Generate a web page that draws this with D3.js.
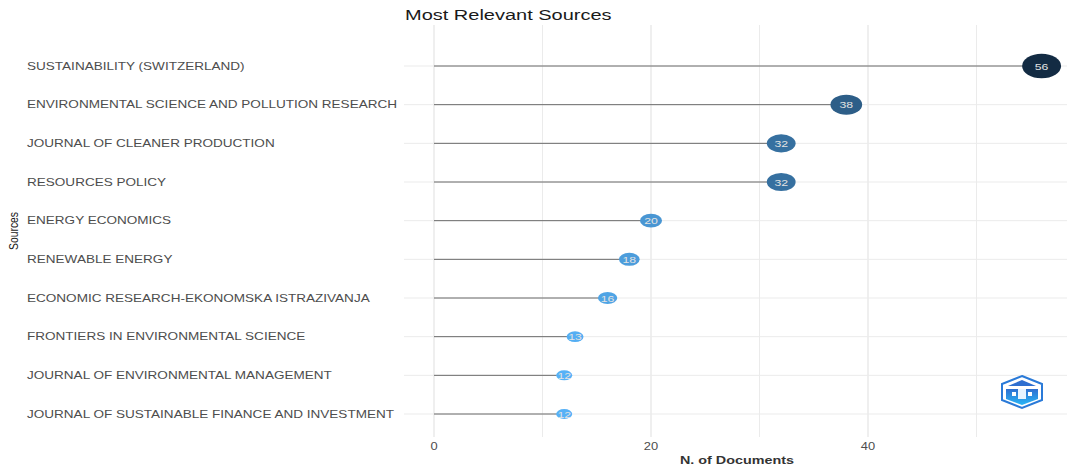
<!DOCTYPE html>
<html><head><meta charset="utf-8">
<script src="https://cdn.jsdelivr.net/npm/d3@7"></script>
<style>body{margin:0;background:#fff;} svg{display:block;font-family:"Liberation Sans",Arial,sans-serif;}</style>
</head><body>
<svg id="c" width="1067" height="468"></svg>
<script>
const sources = [
  "SUSTAINABILITY (SWITZERLAND)",
  "ENVIRONMENTAL SCIENCE AND POLLUTION RESEARCH",
  "JOURNAL OF CLEANER PRODUCTION",
  "RESOURCES POLICY",
  "ENERGY ECONOMICS",
  "RENEWABLE ENERGY",
  "ECONOMIC RESEARCH-EKONOMSKA ISTRAZIVANJA",
  "FRONTIERS IN ENVIRONMENTAL SCIENCE",
  "JOURNAL OF ENVIRONMENTAL MANAGEMENT",
  "JOURNAL OF SUSTAINABLE FINANCE AND INVESTMENT"
];
const documents = [56, 38, 32, 32, 20, 18, 16, 13, 12, 12];
const xTicks = [0, 20, 40];
const xMinor = [10, 30, 50];
const titleText = "Most Relevant Sources";
const xTitle = "N. of Documents";
const yTitle = "Sources";

const SX = 1.29; // horizontal stretch of text in the reference
const svg = d3.select("#c");
const panel = {left: 404, right: 1067, top: 25, bottom: 437};
const x = d3.scaleLinear().domain([0, 20]).range([434, 651]);
const y = d3.scalePoint().domain(sources).range([66, 414]);
const area = d3.scaleLinear().domain([12, 56]).range([16 * 16, 39 * 39]);
const bw = v => Math.sqrt(area(v));
const color = d3.scaleLinear().domain([12, 56]).range(["#56B1F7", "#132B43"]).interpolate(d3.interpolateLab);

function stext(sel, xf, yf, sx) {
  return sel.attr("transform", (d, i) => `translate(${xf(d, i)},${yf(d, i)}) scale(${sx},1)`);
}

const grid = svg.append("g");
grid.selectAll(".vm").data(xMinor).join("line")
  .attr("x1", d => x(d)).attr("x2", d => x(d))
  .attr("y1", panel.top).attr("y2", panel.bottom)
  .attr("stroke", "#ebebeb").attr("stroke-width", 1);
grid.selectAll(".vM").data(xTicks).join("line")
  .attr("x1", d => x(d)).attr("x2", d => x(d))
  .attr("y1", panel.top).attr("y2", panel.bottom)
  .attr("stroke", "#e6e6e6").attr("stroke-width", 1.3);
grid.selectAll(".h").data(sources).join("line")
  .attr("x1", panel.left).attr("x2", panel.right)
  .attr("y1", d => y(d)).attr("y2", d => y(d))
  .attr("stroke", "#ebebeb").attr("stroke-width", 1);

// segments
svg.append("g").selectAll("line").data(sources).join("line")
  .attr("x1", x(0)).attr("x2", (d, i) => x(documents[i]))
  .attr("y1", d => y(d)).attr("y2", d => y(d))
  .attr("stroke", "#6b6b6b").attr("stroke-width", 1);

// bubbles
const b = svg.append("g");
b.selectAll("ellipse").data(sources).join("ellipse")
  .attr("cx", (d, i) => x(documents[i])).attr("cy", d => y(d))
  .attr("rx", (d, i) => bw(documents[i]) / 2).attr("ry", (d, i) => bw(documents[i]) * 0.63 / 2)
  .attr("fill", (d, i) => color(documents[i]));
stext(b.selectAll("text").data(sources).join("text"), (d, i) => x(documents[i]), d => y(d) + 3.5, SX)
  .attr("text-anchor", "middle").attr("font-size", 9.5)
  .attr("fill", "#e2e2e2")
  .text((d, i) => documents[i]);

// y labels
stext(svg.append("g").selectAll("text").data(sources).join("text"), () => 27, d => y(d) + 3.8, SX)
  .attr("font-size", 10.5).attr("fill", "#4d4d4d")
  .text(d => d);

// x tick labels
stext(svg.append("g").selectAll("text").data(xTicks).join("text"), d => x(d), () => 450, SX)
  .attr("text-anchor", "middle").attr("font-size", 10).attr("fill", "#4d4d4d")
  .text(d => d);

stext(svg.append("g").selectAll("text").data([titleText]).join("text"), () => 405, () => 20, SX)
  .attr("font-size", 15.5).attr("fill", "#1a1a1a").text(d => d);
stext(svg.append("g").selectAll("text").data([xTitle]).join("text"), () => 737, () => 464, 1.25)
  .attr("text-anchor", "middle")
  .attr("font-size", 11.5).attr("font-weight", "bold").attr("fill", "#333").text(d => d);
svg.append("text").attr("transform", "translate(18,231) rotate(-90)").attr("text-anchor", "middle")
  .attr("font-size", 12).attr("fill", "#1a1a1a").attr("textLength", 38).attr("lengthAdjust", "spacingAndGlyphs").text(yTitle);

// logo
const lg = svg.append("g").attr("transform", "translate(1022,392)");
const defs = svg.append("defs");
const gr = defs.append("linearGradient").attr("id", "lg").attr("x1", 0).attr("y1", 0).attr("x2", 0).attr("y2", 1);
gr.append("stop").attr("offset", "0%").attr("stop-color", "#2f6fd0");
gr.append("stop").attr("offset", "100%").attr("stop-color", "#29b6f6");
const hex = [[0,-16],[20,-8],[20,8],[0,16],[-20,8],[-20,-8]];
lg.append("path").attr("d", d3.line()(hex) + "Z").attr("fill", "#fff").attr("stroke", "#2a7ad8").attr("stroke-width", 2);
const inner = [[-16,-3],[16,-3],[16,7],[0,13],[-16,7]];
lg.append("path").attr("d", d3.line()(inner) + "Z").attr("fill", "url(#lg)");
lg.append("path").attr("d", "M-14,-6 L0,-12 L14,-6 Z").attr("fill", "#2f6fd0");
lg.append("rect").attr("x", -4).attr("y", -3).attr("width", 8).attr("height", 10).attr("fill", "#e8f4ff");
lg.append("path").attr("d", "M-10,4 h4 v-4 h-4 Z M6,4 h4 v-4 h-4 Z").attr("fill", "#fff");
</script>
</body></html>
